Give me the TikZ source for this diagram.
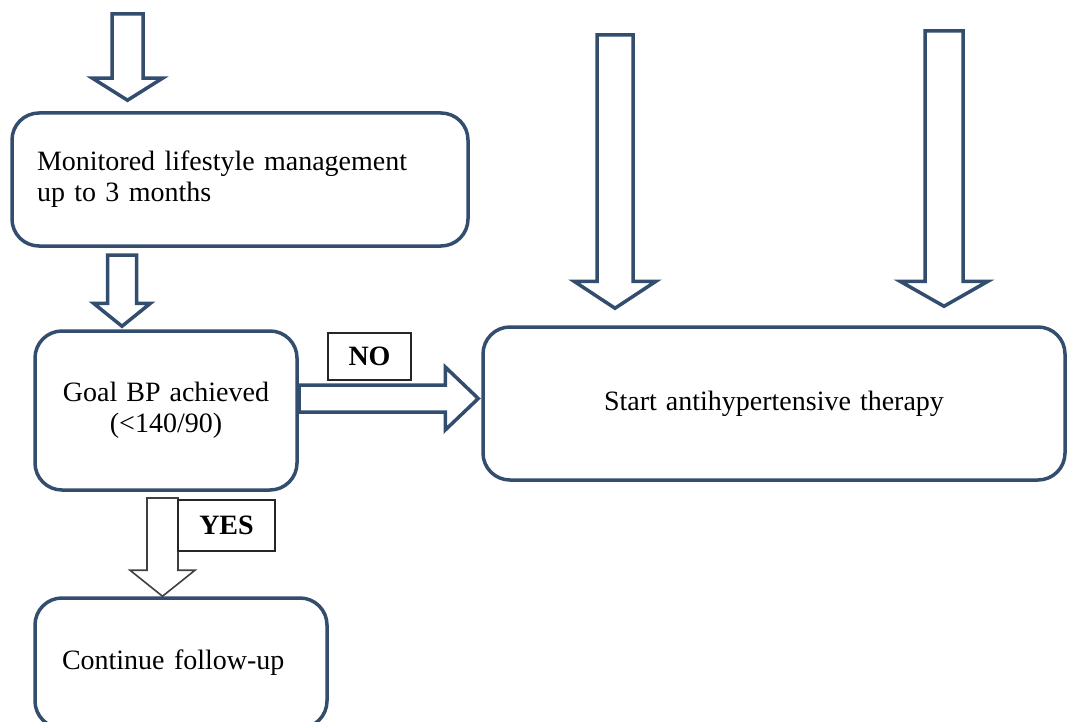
\documentclass[tikz,border=0pt]{standalone}
\usepackage{fontspec}
\setmainfont{Liberation Serif}
\usetikzlibrary{calc}

\definecolor{boxblue}{RGB}{50,77,110}
\newcommand{\boxfont}{\fontsize{28}{31}\selectfont\spaceskip=9pt plus 3pt\relax}

% down block arrow: tail coordinate, target node anchor, shaft half width, head half width, head length, gap
\newcommand{\downblock}[7][blockarrow]{%
  \draw[#1] let \p1=(#2), \p2=($(#3)+(0,-#7)$) in
    (\x1-#4pt,\y1) -- (\x1+#4pt,\y1) -- (\x1+#4pt,\y2+#6pt) -- (\x1+#5pt,\y2+#6pt)
    -- (\x1,\y2) -- (\x1-#5pt,\y2+#6pt) -- (\x1-#4pt,\y2+#6pt) -- cycle;}
% right block arrow, same arguments
\newcommand{\rightblock}[7][blockarrow]{%
  \draw[#1] let \p1=(#2), \p2=($(#3)+(-#7,0)$) in
    (\x1,\y1+#4pt) -- (\x2-#6pt,\y1+#4pt) -- (\x2-#6pt,\y1+#5pt) -- (\x2,\y1)
    -- (\x2-#6pt,\y1-#5pt) -- (\x2-#6pt,\y1-#4pt) -- (\x1,\y1-#4pt) -- cycle;}

\tikzset{
  roundbox/.style={draw=boxblue, line width=3.5pt, rounded corners=27pt,
    inner sep=0pt, font=\boxfont},
  blockarrow/.style={draw=boxblue, line width=3.5pt, fill=white, line join=miter},
  thinarrow/.style={draw=black!75, line width=1.6pt, fill=white, line join=miter},
  answer/.style={draw=black!85, line width=1.3pt, fill=white, inner sep=0pt,
    font=\fontsize{28}{31}\selectfont\bfseries}
}

\begin{document}
\begin{tikzpicture}[x=1pt, y=-1pt]
    \clip (0,0) rectangle (1067,722);

    % Boxes
    \node[roundbox, minimum width=456pt, minimum height=133pt,
      text width=406pt, align=left] (life) at (240,179.5)
      {Monitored lifestyle management\\up to 3 months};
    \node[roundbox, minimum width=262pt, minimum height=159pt, align=center]
      (goal) at (166,410.5) {Goal BP achieved\\(<140/90)};
    \node[roundbox, minimum width=582pt, minimum height=153pt]
      (start) at (774,403.5) {Start antihypertensive therapy};
    \node[roundbox, minimum width=292pt, minimum height=130pt,
      text width=238pt, align=left] (cont) at (181,663) {Continue follow-up};

    % Arrow tails
    \coordinate (t1) at (127.5,14);
    \coordinate (t2) at (122,255);
    \coordinate (t3) at (615,35);
    \coordinate (t4) at (944,31);
    \coordinate (t5) at (299,398.5);
    \coordinate (t6) at (162.5,498);

    % Block arrows
    \downblock{t1}{life.north}{15.5}{35}{22}{11}
    \downblock{t2}{goal.north}{14.5}{28.5}{23}{3}
    \downblock{t3}{start.north}{18}{41}{27}{17}
    \downblock{t4}{start.north}{19}{44}{25}{19}
    \rightblock{t5}{start.west}{13.5}{31.5}{33}{3}
    \downblock[thinarrow]{t6}{cont.north}{15.5}{32.5}{26}{0}

    % Answer labels
    \node[answer, minimum width=83pt, minimum height=47pt] (no) at (369.5,356.5) {NO};
    \node[answer, minimum width=97pt, minimum height=51pt] (yes) at (226.5,525.5) {YES};
\end{tikzpicture}
\end{document}
